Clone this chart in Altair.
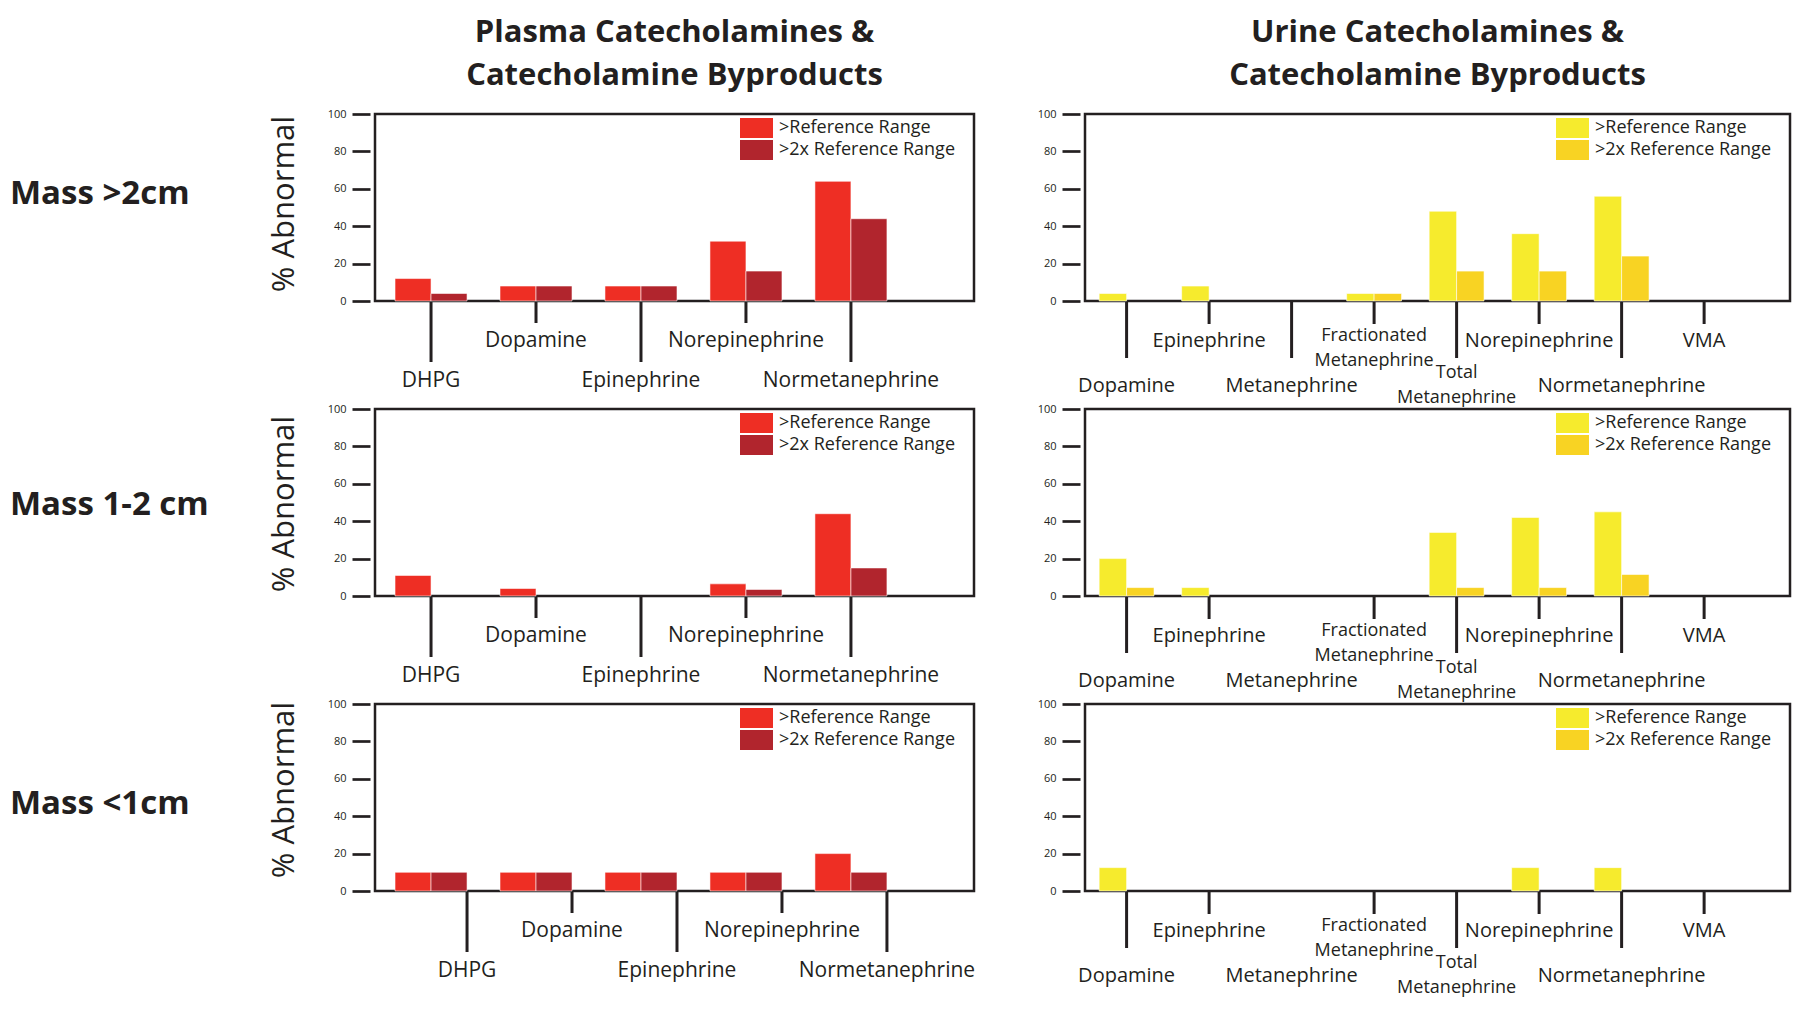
import altair as alt
import pandas as pd

# ---------------- data ----------------
SERIES = [">Reference Range", ">2x Reference Range"]
PLASMA_CATS = ["DHPG", "Dopamine", "Epinephrine", "Norepinephrine", "Normetanephrine"]
URINE_CATS = ["Dopamine", "Epinephrine", "Metanephrine", "Fractionated\nMetanephrine",
              "Total\nMetanephrine", "Norepinephrine", "Normetanephrine", "VMA"]
ROW_LABELS = ["Mass >2cm", "Mass 1-2 cm", "Mass <1cm"]
PLASMA_TITLE = "Plasma Catecholamines &\nCatecholamine Byproducts"
URINE_TITLE = "Urine Catecholamines &\nCatecholamine Byproducts"
Y_TITLE = "% Abnormal"
Y_TICKS = [0, 20, 40, 60, 80, 100]

# % abnormal, one list per mass-size row
plasma_ref = [[12, 8, 8, 32, 64], [11, 4, 0, 6.5, 44], [10, 10, 10, 10, 20]]
plasma_2x = [[4, 8, 8, 16, 44], [0, 0, 0, 3.5, 15], [10, 10, 10, 10, 10]]
urine_ref = [[4, 8, 0, 4, 48, 36, 56, 0],
             [20, 4.5, 0, 0, 34, 42, 45, 0],
             [12.5, 0, 0, 0, 0, 12.5, 12.5, 0]]
urine_2x = [[0, 0, 0, 4, 16, 16, 24, 0],
            [4.5, 0, 0, 0, 4.5, 4.5, 11.5, 0],
            [0, 0, 0, 0, 0, 0, 0, 0]]
# categories drawn without a tick line in the reference
urine_no_tick = [[], ["Metanephrine"], ["Metanephrine"]]

# ---------------- style ----------------
FONT = "Open Sans"
INK = "#231f20"
PLASMA_COLORS = ["#EE2E24", "#B1252D"]
URINE_COLORS = ["#F6EB2D", "#F8D323"]
H = 187
W_P = 599
W_U = 705
ROW_GAP = 108


def panel(cats, ref, x2, colors, W, pad_in, pad_out, align, lab_size,
          t_short, t_long, l_short, l_long, multi_short, multi_long,
          band_pos, no_tick, title=None, row_label=None, row_label_y=0,
          ytitle_y=None):
    xscale = alt.Scale(domain=cats, paddingInner=pad_in, paddingOuter=pad_out, align=align)
    n = len(cats)
    bars = pd.DataFrame({"cat": cats * 2,
                         "series": [SERIES[0]] * n + [SERIES[1]] * n,
                         "value": list(ref) + list(x2)})
    bars = bars[bars["value"] > 0]
    bar = alt.Chart(bars).mark_bar(stroke="white", strokeWidth=0.8, strokeOpacity=0.7).encode(
        x=alt.X("cat:N", scale=xscale, axis=None),
        xOffset=alt.XOffset("series:N", scale=alt.Scale(domain=SERIES)),
        y=alt.Y("value:Q", scale=alt.Scale(domain=[0, 100], nice=False),
                axis=alt.Axis(values=Y_TICKS, title=None, grid=False, domain=False,
                              offset=5, tickSize=18, tickWidth=2.7, tickColor=INK,
                              labelFont=FONT, labelFontSize=11, labelColor=INK,
                              labelPadding=6)),
        color=alt.Color("series:N", scale=alt.Scale(domain=SERIES, range=colors),
                        legend=alt.Legend(orient="none", legendX=W - 234 + 6.5, legendY=4,
                                          title=None, direction="vertical",
                                          labelFont=FONT, labelFontSize=18, labelColor=INK,
                                          symbolType="M-1.65,-1H1.65V1H-1.65Z",
                                          symbolSize=400, symbolStrokeWidth=0,
                                          symbolOpacity=1, labelOffset=12.5,
                                          rowPadding=2, padding=0, labelLimit=400)),
    )

    tdf = pd.DataFrame({"cat": cats, "i": list(range(n))})
    is_multi = tdf["cat"].str.contains("\n")
    is_short = (tdf["i"] % 2 == 1)
    has_tick = ~tdf["cat"].isin(no_tick)
    xpos = alt.X("cat:N", scale=xscale, axis=None, bandPosition=band_pos)

    layers = [bar]
    layers.append(alt.Chart(tdf[is_short & has_tick]).mark_rule(color=INK, strokeWidth=3).encode(
        x=xpos, y=alt.value(H + 1), y2=alt.value(H + t_short)))
    layers.append(alt.Chart(tdf[~is_short & has_tick]).mark_rule(color=INK, strokeWidth=3).encode(
        x=xpos, y=alt.value(H + 1), y2=alt.value(H + t_long)))

    def lab(df, y, size, baseline):
        if len(df) == 0:
            return None
        return alt.Chart(df).mark_text(font=FONT, fontSize=size, color=INK, align="center",
                                       baseline=baseline, lineBreak="\n", lineHeight=25).encode(
            x=xpos, y=alt.value(y), text="cat:N")

    for c in [lab(tdf[is_short & ~is_multi], H + l_short, lab_size, "middle"),
              lab(tdf[~is_short & ~is_multi], H + l_long, lab_size, "middle"),
              lab(tdf[is_short & is_multi], H + multi_short, 18, "top"),
              lab(tdf[~is_short & is_multi], H + multi_long, 18, "top")]:
        if c is not None:
            layers.append(c)

    if title is not None:
        layers.append(alt.Chart(pd.DataFrame({"t": [title]})).mark_text(
            font=FONT, fontSize=31, fontWeight="bold", color=INK, align="center",
            baseline="top", lineBreak="\n", lineHeight=43).encode(
            text="t:N", x=alt.value(W / 2), y=alt.value(-96)))
    if row_label is not None:
        layers.append(alt.Chart(pd.DataFrame({"t": [row_label]})).mark_text(
            font=FONT, fontSize=33, fontWeight="bold", color=INK, align="left",
            baseline="middle").encode(
            text="t:N", x=alt.value(-365), y=alt.value(row_label_y)))
    if ytitle_y is not None:
        layers.append(alt.Chart(pd.DataFrame({"t": [Y_TITLE]})).mark_text(
            font=FONT, fontSize=31, color=INK, align="center", baseline="middle",
            angle=270).encode(
            text="t:N", x=alt.value(-90), y=alt.value(ytitle_y)))

    return alt.layer(*layers).properties(width=W, height=H)


row_label_y = [80, 96, 100]
ytitle_y = [90, 95, 86]
plasma_band_pos = [0.5, 0.5, 1.0]

rows = []
for r in range(3):
    p = panel(PLASMA_CATS, plasma_ref[r], plasma_2x[r], PLASMA_COLORS, W_P,
              0.314, 0.51, 0.187, 21,
              22, 61, 40, 80, 26, 63,
              plasma_band_pos[r], [],
              title=PLASMA_TITLE if r == 0 else None,
              row_label=ROW_LABELS[r], row_label_y=row_label_y[r],
              ytitle_y=ytitle_y[r])
    u = panel(URINE_CATS, urine_ref[r], urine_2x[r], URINE_COLORS, W_U,
              0.335, 0.44, 0.195, 20,
              23, 57, 40, 85, 26, 63,
              0.5, urine_no_tick[r],
              title=URINE_TITLE if r == 0 else None)
    row = alt.hconcat(p, u, spacing=111, bounds="flush").resolve_scale(
        color="independent", xOffset="independent").resolve_legend(color="independent")
    rows.append(row)

# with flush bounds the nested rows report no height, so the spacing is the row pitch
chart = alt.vconcat(*rows, spacing=H + ROW_GAP, bounds="flush").resolve_scale(
    color="independent", xOffset="independent").resolve_legend(
    color="independent").properties(padding={"top": 7, "left": 0, "right": 0, "bottom": 0}
    ).configure(font=FONT).configure_view(stroke=INK, strokeWidth=2.5)

chart.save("out.html", embed_options={"renderer": "svg", "actions": False})
